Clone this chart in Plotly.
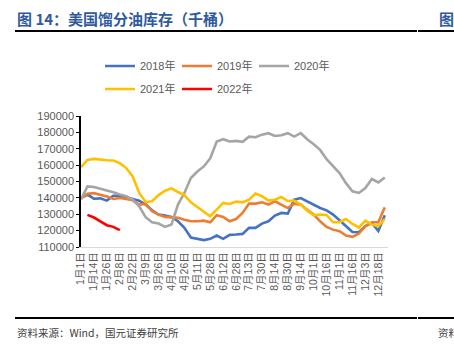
import plotly.graph_objects as go

tick_labels = ["1月1日", "1月14日", "1月26日", "2月8日", "2月22日", "3月9日", "3月26日", "4月10日",
               "4月26日", "5月11日", "5月28日", "6月12日", "6月28日", "7月13日", "7月30日", "8月14日",
               "8月30日", "9月14日", "10月1日", "10月16日", "11月1日", "11月16日", "12月3日", "12月18日"]

y2018 = [139900, 142000, 139500, 139700, 138300, 141300, 141300, 140500, 139300, 138300, 135900, 132400,
         129800, 129200, 128400, 125700, 121700, 115800, 115000, 114200, 115000, 117000, 115000, 117400,
         117600, 118000, 121700, 121700, 124300, 125700, 129200, 130800, 130400, 138900, 139900, 137900,
         136300, 133800, 132400, 129800, 126300, 122700, 119200, 119000, 122700, 124700, 119800, 129400]
y2019 = [139900, 142500, 142900, 142100, 140900, 139300, 139900, 139300, 138500, 135900, 136300, 131800,
         129800, 128400, 128200, 127800, 126700, 125700, 125700, 126100, 125100, 129400, 128400, 125700,
         127100, 130800, 136500, 136500, 137300, 135900, 137900, 135900, 133800, 136500, 135900, 132800,
         129800, 125700, 122300, 120600, 119600, 117000, 116200, 118200, 122700, 125100, 125100, 134200]
y2020 = [139000, 147000, 146600, 145600, 144600, 143400, 142000, 141000, 139000, 134900, 128200, 125100,
         124300, 122300, 123700, 135900, 143000, 152100, 156100, 159200, 164200, 174400, 175800, 174400,
         174800, 174200, 177400, 177000, 178600, 179500, 177800, 178200, 179500, 177400, 179500, 175800,
         172800, 169300, 163600, 159200, 155100, 149000, 144000, 143000, 146000, 151500, 149400, 152500]
y2021 = [158800, 163200, 163800, 163200, 163000, 162800, 161200, 158200, 153100, 143000, 137500, 137900,
         141700, 144400, 145800, 143600, 141700, 137300, 134400, 131600, 128800, 132800, 136900, 136300,
         137700, 137300, 138900, 142600, 141000, 138300, 138900, 140500, 138100, 138300, 135900, 132200,
         129400, 129800, 129600, 125100, 125100, 127100, 124100, 121900, 126100, 123700, 122700, 127100]
y2022 = [129600, 128000, 125700, 123300, 122300, 120300]

series = [("2018年", y2018, "#4472C4", 0, "legend"),
          ("2019年", y2019, "#ED7D31", 0, "legend"),
          ("2020年", y2020, "#A5A5A5", 0, "legend"),
          ("2021年", y2021, "#FFC000", 0, "legend2"),
          ("2022年", y2022, "#FF0000", 1, "legend2")]

FONT = "Liberation Sans, Arial, Noto Sans CJK SC"
fig = go.Figure()
for name, ys, color, start, lg in series:
    fig.add_trace(go.Scatter(x=list(range(start, start + len(ys))), y=ys, name=name, mode="lines",
                             line=dict(color=color, width=2.6), legend=lg))

L, T, W, H = 81, 116, 307, 131
def px(x): return (x - L) / W
def py(y): return (T + H - y) / H

fig.update_layout(
    width=454, height=345, margin=dict(l=L, r=454 - L - W, t=T, b=345 - T - H),
    paper_bgcolor="white", plot_bgcolor="white", showlegend=True,
    font=dict(family=FONT, color="#595959", size=11),
    legend=dict(orientation="h", x=px(100), xanchor="left", y=py(66), yanchor="middle",
                font=dict(size=11, color="#595959"), entrywidth=32, entrywidthmode="pixels",
                bgcolor="rgba(0,0,0,0)", tracegroupgap=0),
    legend2=dict(orientation="h", x=px(100), xanchor="left", y=py(89), yanchor="middle",
                 font=dict(size=11, color="#595959"), entrywidth=32, entrywidthmode="pixels",
                 bgcolor="rgba(0,0,0,0)"),
    xaxis=dict(range=[0, 47.5], tickmode="array", tickvals=list(range(0, 48, 2)), ticktext=tick_labels,
               tickangle=-90, showgrid=False, zeroline=False, showline=True, linecolor="#D9D9D9",
               linewidth=1, ticks="", tickfont=dict(size=10.5, color="#595959",
                                                    family="Liberation Sans, Noto Sans CJK SC")),
    yaxis=dict(range=[110000, 190000], dtick=10000, tickformat="d", showgrid=False, zeroline=False,
               showline=True, linecolor="black", linewidth=1.5, ticks="outside", ticklen=3,
               tickcolor="black", tickfont=dict(size=11, color="#595959")),
)

fig.add_shape(type="line", xref="paper", yref="paper", x0=px(15), x1=px(417), y0=py(31), y1=py(31),
              line=dict(color="black", width=2))
fig.add_shape(type="line", xref="paper", yref="paper", x0=px(418), x1=px(454), y0=py(31), y1=py(31),
              line=dict(color="black", width=2))
fig.add_shape(type="line", xref="paper", yref="paper", x0=px(15), x1=px(417), y0=py(318), y1=py(318),
              line=dict(color="black", width=2))
fig.add_shape(type="line", xref="paper", yref="paper", x0=px(418), x1=px(454), y0=py(318), y1=py(318),
              line=dict(color="black", width=2))

fig.add_annotation(text="<b>图 14：美国馏分油库存（千桶）</b>", xref="paper", yref="paper", x=px(15), y=py(18),
                   xanchor="left", yanchor="middle", showarrow=False,
                   font=dict(size=15, color="#2F5A9E", family="Noto Sans CJK SC"))
fig.add_annotation(text="<b>图</b>", xref="paper", yref="paper", x=px(437), y=py(18),
                   xanchor="left", yanchor="middle", showarrow=False,
                   font=dict(size=15, color="#2F5A9E", family="Noto Sans CJK SC"))
fig.add_annotation(text="资料来源：Wind，国元证券研究所", xref="paper", yref="paper", x=px(15), y=py(332),
                   xanchor="left", yanchor="middle", showarrow=False,
                   font=dict(size=10.5, color="#404040", family="Noto Sans CJK SC"))
fig.add_annotation(text="资料", xref="paper", yref="paper", x=px(436), y=py(332),
                   xanchor="left", yanchor="middle", showarrow=False,
                   font=dict(size=10.5, color="#404040", family="Noto Sans CJK SC"))

fig.write_html("out.html")
